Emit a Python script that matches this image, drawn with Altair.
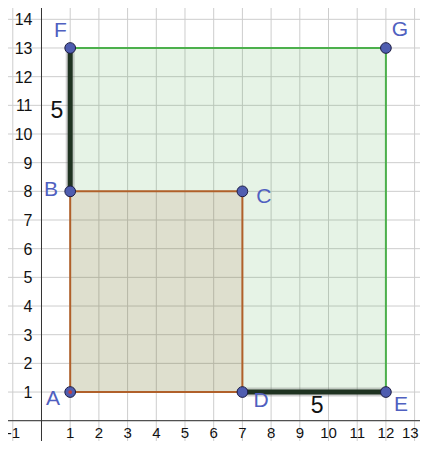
import altair as alt
import pandas as pd

# ---- data ----
grid_x = list(range(-1, 14))
grid_y = list(range(-1, 15))
xtick_labels = ["-1", "1", "2", "3", "4", "5", "6", "7", "8", "9", "10", "11", "12", "13"]
xtick_vals = [-1, 1, 2, 3, 4, 5, 6, 7, 8, 9, 10, 11, 12, 13]
ytick_vals = list(range(1, 15))

pt_names = ["A", "B", "C", "D", "E", "F", "G"]
pt_x = [1, 1, 7, 7, 12, 1, 12]
pt_y = [1, 8, 8, 1, 1, 13, 13]
lab_x = [0.4, 0.33, 7.75, 7.65, 12.53, 0.66, 12.49]
lab_y = [0.76, 8.05, 7.8, 0.69, 0.55, 13.6, 13.63]

# polygons (x, x2, y, y2)
green_rect = dict(x=1, x2=12, y=1, y2=13)
brown_rect = dict(x=1, x2=7, y=1, y2=8)

# segments
seg_x = [1, 1, 7, 7, 1, 12]
seg_x2 = [1, 7, 7, 1, 12, 12]
seg_y = [1, 8, 8, 1, 13, 13]
seg_y2 = [8, 8, 1, 1, 13, 1]
seg_kind = ["brown", "brown", "brown", "brown", "green", "green"]

thick_x = [1, 7]
thick_x2 = [1, 12]
thick_y = [8, 1]
thick_y2 = [13, 1]
len_text = ["5", "5"]
len_x = [0.54, 9.6]
len_y = [10.8, 0.51]

W, H = 412, 433
xs = alt.Scale(domain=[-1.167, 13.188], nice=False, zero=False)
ys = alt.Scale(domain=[-0.708, 14.395], nice=False, zero=False)
X = lambda f: alt.X(f, scale=xs, axis=None)
Y = lambda f: alt.Y(f, scale=ys, axis=None)

gx = pd.DataFrame({"x": grid_x})
gy = pd.DataFrame({"y": grid_y})
vgrid = alt.Chart(gx).mark_rule(color="#cdcdcd", strokeWidth=1).encode(
    x=X("x:Q"), y=alt.value(0), y2=alt.value(H))
hgrid = alt.Chart(gy).mark_rule(color="#cdcdcd", strokeWidth=1).encode(
    y=Y("y:Q"), x=alt.value(0), x2=alt.value(W))

axes = pd.DataFrame({"x": [0], "y": [0]})
xaxis = alt.Chart(axes).mark_rule(color="#333333", strokeWidth=1).encode(
    y=Y("y:Q"), x=alt.value(0), x2=alt.value(W))
yaxis = alt.Chart(axes).mark_rule(color="#333333", strokeWidth=1).encode(
    x=X("x:Q"), y=alt.value(0), y2=alt.value(H))

xl = pd.DataFrame({"x": xtick_vals, "t": xtick_labels, "y": [0] * len(xtick_vals)})
xl["align"] = ["left" if v == -1 else ("right" if v == 13 else "center") for v in xtick_vals]
xl_mid = xl[xl["align"] == "center"]
xl_left = xl[xl["align"] == "left"]
xl_right = xl[xl["align"] == "right"]
xlab_style = dict(fontSize=15, font="Liberation Sans", color="#111111", baseline="middle", dy=12)
xlabels = alt.layer(
    alt.Chart(xl_mid).mark_text(**xlab_style).encode(x=X("x:Q"), y=Y("y:Q"), text="t:N"),
    alt.Chart(xl_left).mark_text(align="left", dx=-6, **xlab_style).encode(
        x=X("x:Q"), y=Y("y:Q"), text="t:N"),
    alt.Chart(xl_right).mark_text(align="right", dx=4, **xlab_style).encode(
        x=X("x:Q"), y=Y("y:Q"), text="t:N"),
)
yl = pd.DataFrame({"y": ytick_vals, "t": [str(v) for v in ytick_vals], "x": [0] * len(ytick_vals)})
ylabels = alt.Chart(yl).mark_text(fontSize=16, font="Liberation Sans", color="#111111",
                                  baseline="middle", align="right", dx=-9, dy=1).encode(
    x=X("x:Q"), y=Y("y:Q"), text="t:N")

gdf = pd.DataFrame([green_rect])
bdf = pd.DataFrame([brown_rect])
gfill = alt.Chart(gdf).mark_rect(color="#339933", opacity=0.12).encode(
    x=X("x:Q"), x2="x2:Q", y=Y("y:Q"), y2="y2:Q")
bfill = alt.Chart(bdf).mark_rect(color="#993300", opacity=0.10).encode(
    x=X("x:Q"), x2="x2:Q", y=Y("y:Q"), y2="y2:Q")

sdf = pd.DataFrame({"x": seg_x, "x2": seg_x2, "y": seg_y, "y2": seg_y2, "k": seg_kind})
edges = alt.Chart(sdf).mark_rule(strokeWidth=2).encode(
    x=X("x:Q"), x2="x2:Q", y=Y("y:Q"), y2="y2:Q",
    color=alt.Color("k:N", scale=alt.Scale(domain=["brown", "green"], range=["#b0602a", "#4cb04c"]),
                    legend=None))

tdf = pd.DataFrame({"x": thick_x, "x2": thick_x2, "y": thick_y, "y2": thick_y2})
shadow = alt.Chart(tdf).mark_rule(strokeWidth=9, color="#777777", opacity=0.35).encode(
    x=X("x:Q"), x2="x2:Q", y=Y("y:Q"), y2="y2:Q")
thick = alt.Chart(tdf).mark_rule(strokeWidth=5, color="#1f3321").encode(
    x=X("x:Q"), x2="x2:Q", y=Y("y:Q"), y2="y2:Q")

pdf = pd.DataFrame({"n": pt_names, "x": pt_x, "y": pt_y, "lx": lab_x, "ly": lab_y})
points = alt.Chart(pdf).mark_point(filled=True, shape="circle", size=115, fill="#4f5db0",
                                   stroke="#1c1c44", strokeWidth=1, opacity=1).encode(
    x=X("x:Q"), y=Y("y:Q"))
adot = alt.Chart(pdf[pdf.n == "A"]).mark_point(filled=True, shape="circle", size=14,
                                                color="#c04040", opacity=1).encode(
    x=X("x:Q"), y=Y("y:Q"))
plabels = alt.Chart(pdf).mark_text(fontSize=21, font="Liberation Sans", color="#5060c0",
                                   baseline="middle", align="center").encode(
    x=X("lx:Q"), y=Y("ly:Q"), text="n:N")

ldf = pd.DataFrame({"x": len_x, "y": len_y, "t": len_text})
lens = alt.Chart(ldf).mark_text(fontSize=23, font="Liberation Sans", color="#111111",
                                baseline="middle", align="center").encode(
    x=X("x:Q"), y=Y("y:Q"), text="t:N")

chart = alt.layer(vgrid, hgrid, gfill, bfill, xaxis, yaxis, xlabels, ylabels, edges,
                  shadow, thick, points, adot, plabels, lens).properties(
    width=W, height=H, padding=0, autosize=alt.AutoSizeParams(type="none"),
    background="white").configure_view(stroke=None)

chart.save("out.html", embed_options={"renderer": "svg", "actions": False})
